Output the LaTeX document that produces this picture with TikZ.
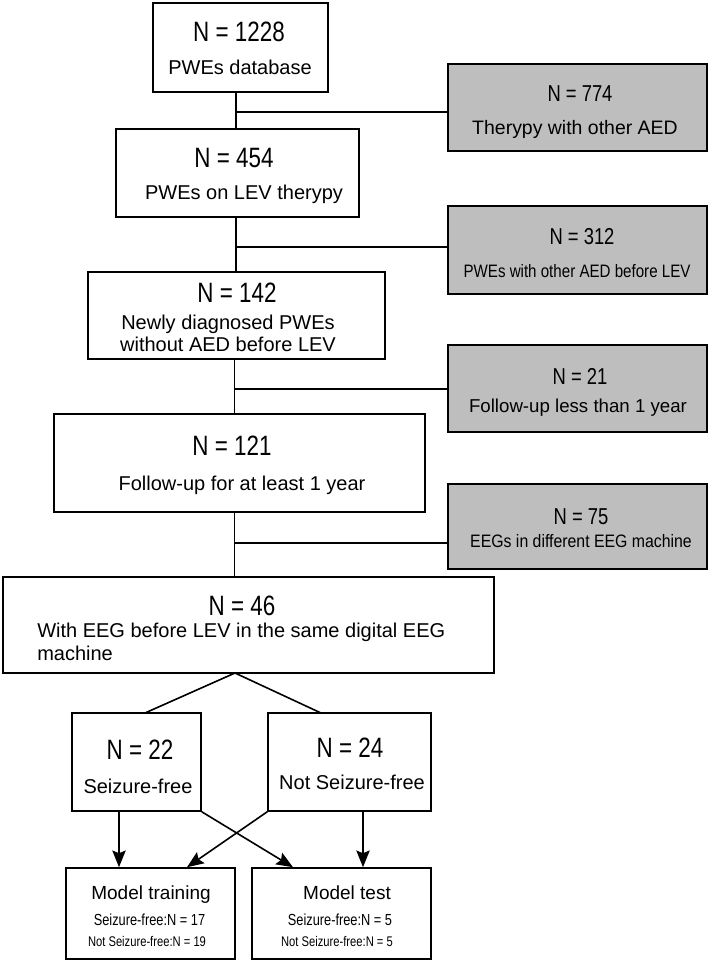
\documentclass[tikz,border=0pt]{standalone}
\usepackage{fontspec}
\setmainfont{Liberation Sans}
\newfontfamily\nA[FakeStretch=0.80]{Liberation Sans}
\newfontfamily\nB[FakeStretch=0.84]{Liberation Sans}
\newfontfamily\nC[FakeStretch=0.88]{Liberation Sans}
\usetikzlibrary{arrows.meta}
\definecolor{boxgray}{RGB}{190,190,190}
\begin{document}
\begin{tikzpicture}[x=0.75pt,y=-0.75pt,
  sz/.style 2 args={minimum width=#1*0.75pt, minimum height=#2*0.75pt},
  wbox/.style={draw, line width=1.2pt, fill=white, inner sep=0pt},
  gbox/.style={wbox, fill=boxgray},
  txt/.style={inner sep=0pt, anchor=base},
  bign/.style={txt, font=\nA\fontsize{21}{21}\selectfont},
  body/.style={txt, font=\fontsize{15}{15}\selectfont},
  grayn/.style={txt, font=\nA\fontsize{17.25}{17.25}\selectfont},
  conn/.style={line width=1.2pt},
  arr/.style={conn, -{Stealth[length=12.5pt,width=10pt,inset=2pt]}}]
\useasboundingbox (0,0) rectangle (709,962);

% main column boxes
\node[wbox, sz={175}{89}] (b1) at (240.5,47.5) {};
\node[wbox, sz={243}{88}] (b2) at (237.5,173) {};
\node[wbox, sz={297}{87}] (b3) at (236.5,315.5) {};
\node[wbox, sz={371}{98}] (b4) at (239.5,463) {};
\node[wbox, sz={491}{96}] (b5) at (248.5,625) {};

% grey exclusion boxes
\node[gbox, sz={259}{87}] (g1) at (577.5,107.5) {};
\node[gbox, sz={259}{88}] (g2) at (577.5,250) {};
\node[gbox, sz={259}{87}] (g3) at (577.5,388.5) {};
\node[gbox, sz={259}{85}] (g4) at (577.5,526.5) {};

% split boxes
\node[wbox, sz={129}{98}] (b22) at (136.5,762) {};
\node[wbox, sz={163}{98}] (b24) at (349.5,762) {};
\node[wbox, sz={169}{91}] (tr) at (150.5,913.5) {};
\node[wbox, sz={179}{91}] (te) at (341.5,913.5) {};

% texts
\node[bign] (t1a) at (239,42) {N = 1228};
\node[body] (t1b) at (240,74.5) {PWEs database};
\node[bign] (t2a) at (234,168) {N = 454};
\node[body] (t2b) at (244,200) {PWEs on LEV therypy};
\node[bign] (t3a) at (237,302) {N = 142};
\node[body] (t3b) at (228,329) {Newly diagnosed PWEs};
\node[body] (t3c) at (228,351) {without AED before LEV};
\node[bign] (t4a) at (232,455) {N = 121};
\node[body] (t4b) at (242,490) {Follow-up for at least 1 year};
\node[bign] (t5a) at (242,615) {N = 46};
\node[body, anchor=base west] (t5b) at (37,637) {With EEG before LEV in the same digital EEG};
\node[body, anchor=base west] (t5c) at (37,660) {machine};

\node[grayn] (u1a) at (580,102) {N = 774};
\node[txt, font=\fontsize{14.6}{14.6}\selectfont] (u1b) at (575,135) {Therypy with other AED};
\node[grayn] (u2a) at (582,245) {N = 312};
\node[txt, font=\nB\fontsize{13.5}{13.5}\selectfont] (u2b) at (577,277) {PWEs with other AED before LEV};
\node[grayn] (u3a) at (580,384) {N = 21};
\node[txt, font=\fontsize{14}{14}\selectfont] (u3b) at (578,412) {Follow-up less than 1 year};
\node[grayn] (u4a) at (581,524) {N = 75};
\node[txt, font=\nC\fontsize{13.5}{13.5}\selectfont] (u4b) at (581,547) {EEGs in different EEG machine};

\node[bign] (v1a) at (140,759) {N = 22};
\node[body] (v1b) at (138,793) {Seizure-free};
\node[bign] (v2a) at (350,757) {N = 24};
\node[body] (v2b) at (352,789) {Not Seizure-free};

\node[txt, font=\fontsize{14.25}{14.25}\selectfont] (w1a) at (151,899) {Model training};
\node[txt, font=\nA\fontsize{12}{12}\selectfont] (w1b) at (149.5,925) {Seizure-free:N = 17};
\node[txt, font=\nA\fontsize{10.5}{10.5}\selectfont] (w1c) at (147,946) {Not Seizure-free:N = 19};
\node[txt, font=\fontsize{14.25}{14.25}\selectfont] (w2a) at (347,899) {Model test};
\node[txt, font=\nA\fontsize{12}{12}\selectfont] (w2b) at (340,925) {Seizure-free:N = 5};
\node[txt, font=\nA\fontsize{10.5}{10.5}\selectfont] (w2c) at (337,946) {Not Seizure-free:N = 5};

% spine coordinates
\coordinate (sa) at (236,0);
\coordinate (sb) at (234.5,0);
\coordinate (j1) at (236,112);
\coordinate (j2) at (236,247);
\coordinate (j3) at (234.5,389);
\coordinate (j4) at (234.5,543);

\draw[conn] (b1.south -| sa) -- (b2.north -| sa);
\draw[conn] (b2.south -| sa) -- (b3.north -| sa);
\draw[conn] (b3.south -| sb) -- (b4.north -| sb);
\draw[conn] (b4.south -| sb) -- (b5.north -| sb);
\draw[conn] (j1) -- (j1 -| g1.west);
\draw[conn] (j2) -- (j2 -| g2.west);
\draw[conn] (j3) -- (j3 -| g3.west);
\draw[conn] (j4) -- (j4 -| g4.west);

% split
\coordinate (ap) at (235,673);
\coordinate (d1) at (145,713);
\coordinate (d2) at (321,713);
\draw[conn, line join=miter] (d1) -- (ap) -- (d2);

% arrows
\coordinate (x1) at (119,0);
\coordinate (x2) at (293,0);
\coordinate (x3) at (187,0);
\coordinate (x4) at (363,0);
\draw[arr] (b22.south -| x1) -- (tr.north -| x1);
\draw[arr] (b22.south east) -- (te.north -| x2);
\draw[arr] (b24.south west) -- (tr.north -| x3);
\draw[arr] (b24.south -| x4) -- (te.north -| x4);
\end{tikzpicture}
\end{document}
